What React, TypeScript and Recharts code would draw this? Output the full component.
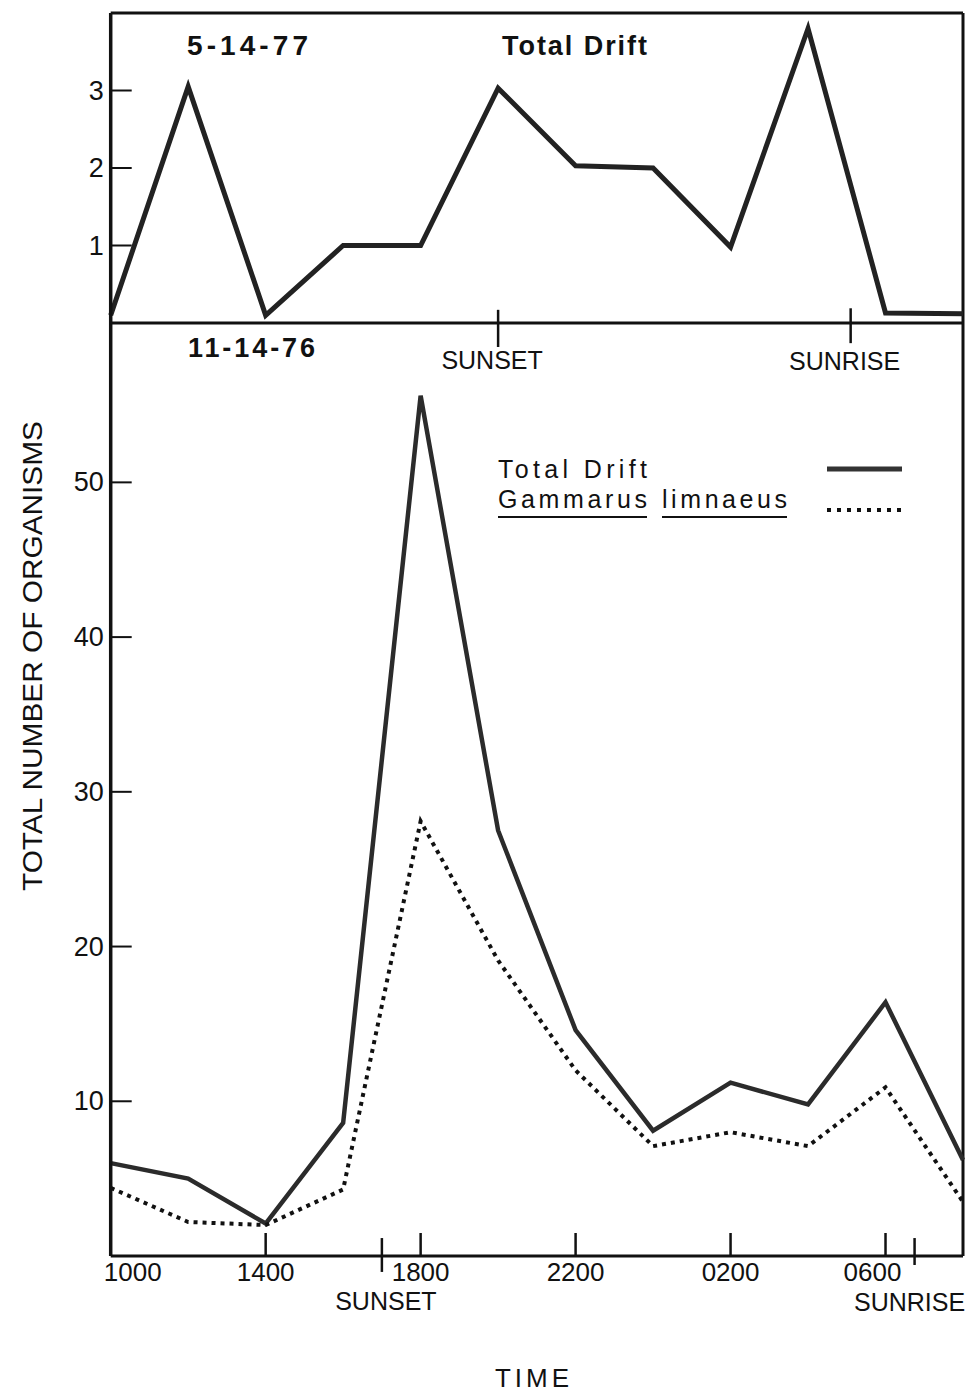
import React from 'react';
import { LineChart, Line, XAxis, YAxis, ReferenceLine, Legend } from 'recharts';

// Hours after 1000 h, one sample every two hours (1000 ... 0800)
const hours = [0, 2, 4, 6, 8, 10, 12, 14, 16, 18, 20, 22];
const timeTicks = [0, 4, 8, 12, 16, 20];
const timeTickLabels = ['1000', '1400', '1800', '2200', '0200', '0600'];

// 5-14-77 Total Drift
const may77Total = [0.1, 3.05, 0.1, 1.0, 1.0, 3.03, 2.03, 2.0, 0.98, 3.8, 0.13, 0.12];
const may77YTicks = [1, 2, 3];
const may77Sunset = 10.0;
const may77Sunrise = 19.1;

// 11-14-76
const nov76Total = [6.0, 5.0, 2.1, 8.6, 55.6, 27.5, 14.6, 8.1, 11.2, 9.8, 16.4, 6.2];
const nov76Gammarus = [4.4, 2.2, 2.0, 4.3, 28.1, 19.1, 12.0, 7.1, 8.0, 7.1, 10.9, 3.5];
const nov76YTicks = [10, 20, 30, 40, 50];
const nov76Sunset = 7.0;
const nov76Sunrise = 20.75;

const mayData = hours.map((h, i) => ({ h, total: may77Total[i] }));
const novData = hours.map((h, i) => ({ h, total: nov76Total[i], gammarus: nov76Gammarus[i] }));

const FONT = '"Liberation Sans", Arial, Helvetica, sans-serif';
const INK = '#111';

const YTick = (props: any) => {
  const { x, y, payload } = props;
  return (
    <g>
      <line x1={x} y1={y} x2={x + 21} y2={y} stroke={INK} strokeWidth={2} />
      <text x={x - 7} y={y} dy={9} textAnchor="end" fontFamily={FONT} fontSize={27} fill={INK}>
        {payload.value}
      </text>
    </g>
  );
};

const XTick = (props: any) => {
  const { x, y, payload, index } = props;
  const label = timeTickLabels[timeTicks.indexOf(payload.value)];
  let dx = 0;
  if (index === 0) dx = 22;
  if (label === '0600') dx = -13;
  return (
    <g>
      {index !== 0 && <line x1={x} y1={y} x2={x} y2={y - 23} stroke={INK} strokeWidth={2.5} />}
      <text x={x + dx} y={y} dy={25} textAnchor="middle" fontFamily={FONT} fontSize={26} fill={INK}>
        {label}
      </text>
    </g>
  );
};

const sunLabel = (text: string, dx: number, dy: number) => (p: any) => {
  const vb = p.viewBox || {};
  return (
    <text
      x={(vb.x || 0) + dx}
      y={(vb.y || 0) + (vb.height || 0) + dy}
      textAnchor="middle"
      fontFamily={FONT}
      fontSize={25}
      fill={INK}
    >
      {text}
    </text>
  );
};

const LegendContent = () => (
  <svg width={440} height={90} style={{ display: 'block' }}>
    <text x={8} y={33} fontFamily={FONT} fontSize={25} fill={INK} textLength={149} lengthAdjust="spacing">
      Total Drift
    </text>
    <line x1={337} y1={24} x2={412} y2={24} stroke="#333" strokeWidth={5} />
    <text x={8} y={63} fontFamily={FONT} fontSize={25} fill={INK} textLength={149} lengthAdjust="spacing">
      Gammarus
    </text>
    <text x={172} y={63} fontFamily={FONT} fontSize={25} fill={INK} textLength={125} lengthAdjust="spacing">
      limnaeus
    </text>
    <line x1={8} y1={72} x2={157} y2={72} stroke={INK} strokeWidth={2} />
    <line x1={172} y1={72} x2={297} y2={72} stroke={INK} strokeWidth={2} />
    <line x1={337} y1={65} x2={412} y2={65} stroke={INK} strokeWidth={4} strokeDasharray="4 6" />
  </svg>
);

export default function App() {
  return (
    <div style={{ position: 'absolute', left: 0, top: 0, width: 975, height: 1393, background: '#fff' }}>
      {/* Bottom panel: 11-14-76 */}
      <div style={{ position: 'absolute', left: 0, top: 0 }}>
        <LineChart width={975} height={1393} data={novData} margin={{ top: 323, right: 12, bottom: 0, left: 0 }}>
          <XAxis
            dataKey="h"
            type="number"
            domain={[0, 22]}
            ticks={timeTicks}
            height={137}
            tickSize={0}
            tickMargin={0}
            tickLine={false}
            tick={<XTick />}
            axisLine={{ stroke: INK, strokeWidth: 3 }}
            interval={0}
          />
          <YAxis
            type="number"
            domain={[0, 60.3]}
            ticks={nov76YTicks}
            width={110.7}
            tickSize={0}
            tickMargin={0}
            tickLine={false}
            tick={<YTick />}
            axisLine={{ stroke: INK, strokeWidth: 3.5 }}
            interval={0}
          />
          <ReferenceLine x={22} stroke={INK} strokeWidth={3} />
          <ReferenceLine
            segment={[{ x: nov76Sunset, y: 1.16 }, { x: nov76Sunset, y: -1.03 }]}
            ifOverflow="visible"
            stroke={INK}
            strokeWidth={2.5}
            label={sunLabel('SUNSET', 4, 38)}
          />
          <ReferenceLine
            segment={[{ x: nov76Sunrise, y: 1.16 }, { x: nov76Sunrise, y: -0.58 }]}
            ifOverflow="visible"
            stroke={INK}
            strokeWidth={2.5}
            label={sunLabel('SUNRISE', -5, 46)}
          />
          <Line
            dataKey="total"
            stroke="#2b2b2b"
            strokeWidth={4.5}
            dot={false}
            isAnimationActive={false}
            strokeLinejoin="miter"
          />
          <Line
            dataKey="gammarus"
            stroke={INK}
            strokeWidth={4}
            strokeDasharray="4 5"
            dot={false}
            isAnimationActive={false}
          />
          <Legend
            layout="horizontal"
            verticalAlign="middle"
            align="center"
            content={<LegendContent />}
            wrapperStyle={{ left: 490, top: 445, width: 440, height: 90 }}
          />
        </LineChart>
      </div>

      {/* Top panel: 5-14-77 */}
      <div style={{ position: 'absolute', left: 0, top: 0 }}>
        <LineChart width={975} height={400} data={mayData} margin={{ top: 13, right: 12, bottom: 0, left: 0 }}>
          <XAxis
            dataKey="h"
            type="number"
            domain={[0, 22]}
            ticks={timeTicks}
            height={77}
            tick={false}
            tickLine={false}
            axisLine={{ stroke: INK, strokeWidth: 3 }}
          />
          <YAxis
            type="number"
            domain={[0, 4]}
            ticks={may77YTicks}
            width={110.7}
            tickSize={0}
            tickMargin={0}
            tickLine={false}
            tick={<YTick />}
            axisLine={{ stroke: INK, strokeWidth: 3.5 }}
            interval={0}
          />
          <ReferenceLine y={4} stroke={INK} strokeWidth={3} />
          <ReferenceLine x={22} stroke={INK} strokeWidth={3} />
          <ReferenceLine
            segment={[{ x: may77Sunset, y: 0.17 }, { x: may77Sunset, y: -0.31 }]}
            ifOverflow="visible"
            stroke={INK}
            strokeWidth={2.5}
            label={sunLabel('SUNSET', -6, 22)}
          />
          <ReferenceLine
            segment={[{ x: may77Sunrise, y: 0.19 }, { x: may77Sunrise, y: -0.26 }]}
            ifOverflow="visible"
            stroke={INK}
            strokeWidth={2.5}
            label={sunLabel('SUNRISE', -6, 27)}
          />
          <Line
            dataKey="total"
            stroke="#222"
            strokeWidth={5}
            dot={false}
            isAnimationActive={false}
            strokeLinejoin="miter"
          />
        </LineChart>
      </div>

      {/* Panel titles and axis titles */}
      <svg width={975} height={1393} style={{ position: 'absolute', left: 0, top: 0, pointerEvents: 'none' }}>
        <text x={187} y={55} fontFamily={FONT} fontSize={28} fontWeight={600} fill={INK} textLength={121} lengthAdjust="spacing">
          5-14-77
        </text>
        <text x={502} y={55} fontFamily={FONT} fontSize={27} fontWeight={600} fill={INK} textLength={145} lengthAdjust="spacing">
          Total Drift
        </text>
        <text x={188} y={357} fontFamily={FONT} fontSize={27} fontWeight={700} fill={INK} textLength={127} lengthAdjust="spacing">
          11-14-76
        </text>
        <text
          x={0}
          y={0}
          transform="translate(42 656) rotate(-90)"
          textAnchor="middle"
          fontFamily='"Liberation Sans Narrow", "Arial Narrow", "Liberation Sans", sans-serif'
          fontSize={27}
          fill={INK}
          textLength={470}
          lengthAdjust="spacingAndGlyphs"
        >
          TOTAL NUMBER OF ORGANISMS
        </text>
        <text x={534} y={1387} textAnchor="middle" fontFamily={FONT} fontSize={26} fill={INK} letterSpacing={4}>
          TIME
        </text>
      </svg>
    </div>
  );
}
